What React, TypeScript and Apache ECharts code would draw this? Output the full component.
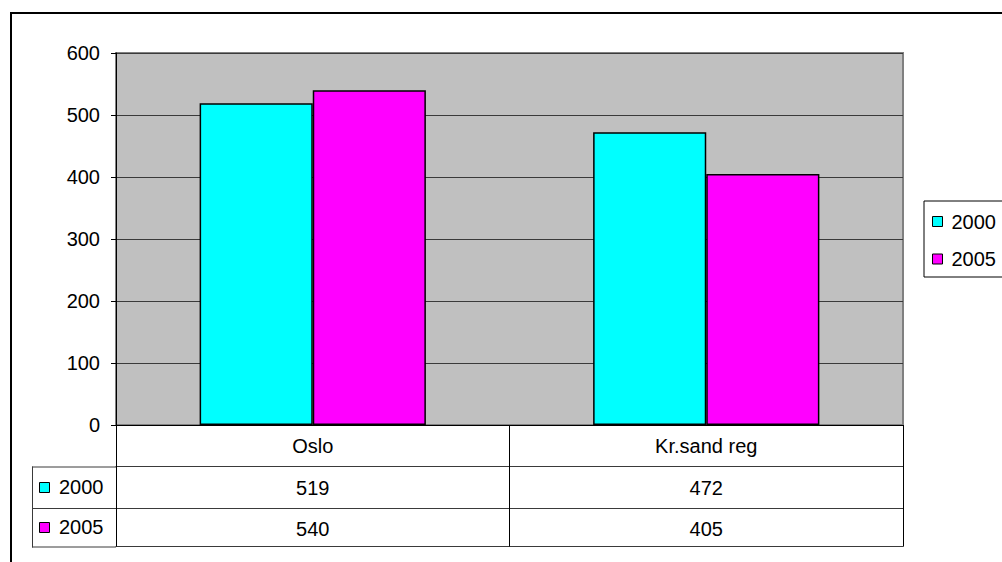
import React, { useEffect, useRef } from "react";
import * as echarts from "echarts";

const categories = ["Oslo", "Kr.sand reg"];
const seriesNames = ["2000", "2005"];
const values2000 = [519, 472];
const values2005 = [540, 405];
const seriesColors = ["#00FFFF", "#FF00FF"];
const yTicks = { min: 0, max: 600, interval: 100 };

const FONT = "'Liberation Sans', Arial, sans-serif";

export default function App() {
  const ref = useRef<HTMLDivElement>(null);
  useEffect(() => {
    if (!ref.current) return;
    const chart = echarts.init(ref.current, null, { renderer: "svg" });
    const gridLeft = 116;
    const gridTop = 53;
    const gridW = 787;
    const gridH = 372;
    const gridBottom = gridTop + gridH;
    const rowH = [41.5, 41.5, 38.5];
    const row1 = gridBottom + rowH[0];
    const row2 = row1 + rowH[1];
    const row3 = row2 + rowH[2];
    const keyLeft = 32;
    const lineColor = "#3a3a3a";

    const valueAxis = (data: string[], offset: number, showLabel: boolean) => ({
      type: "category",
      data,
      position: "bottom",
      offset,
      gridIndex: 0,
      axisLine: { show: true, lineStyle: { color: lineColor, width: 1 } },
      axisTick: { show: false },
      axisLabel: {
        show: showLabel,
        interval: 0,
        margin: 11,
        fontSize: 20,
        lineHeight: 20,
        color: "#000",
        fontFamily: FONT,
      },
      splitLine: { show: false },
    });

    const tableKeys: any[] = [];
    seriesNames.forEach((name, i) => {
      const top = i === 0 ? row1 : row2;
      const h = i === 0 ? rowH[1] : rowH[2];
      const cy = top + h / 2;
      tableKeys.push({
        type: "rect",
        shape: { x: 39.5, y: Math.round(cy - 5) + 0.5, width: 10, height: 10 },
        style: { fill: seriesColors[i], stroke: "#000", lineWidth: 1 },
      });
      tableKeys.push({
        type: "text",
        x: 59,
        y: cy,
        style: {
          text: name,
          fontSize: 20,
          fontFamily: FONT,
          fill: "#000",
          verticalAlign: "middle",
          align: "left",
        },
      });
    });

    chart.setOption({
      animation: false,
      backgroundColor: "#fff",
      textStyle: { fontFamily: FONT },
      grid: {
        left: gridLeft,
        top: gridTop,
        width: gridW,
        height: gridH,
        show: true,
        backgroundColor: "#C0C0C0",
        borderColor: "#808080",
        borderWidth: 2,
      },
      legend: {
        data: seriesNames,
        orient: "vertical",
        left: 924,
        top: 201,
        padding: [10.5, 40, 8, 8],
        itemWidth: 10,
        itemHeight: 10,
        itemGap: 17.5,
        icon: "rect",
        borderColor: "#000",
        borderWidth: 1,
        backgroundColor: "#fff",
        textStyle: {
          fontSize: 20,
          lineHeight: 20,
          color: "#000",
          fontFamily: FONT,
          padding: [0, 0, 0, 4],
        },
        itemStyle: { borderColor: "#000", borderWidth: 1 },
      },
      xAxis: [
        {
          type: "category",
          data: categories,
          position: "bottom",
          gridIndex: 0,
          axisLine: { show: true, lineStyle: { color: "#000", width: 1 } },
          axisTick: {
            show: true,
            interval: 0,
            inside: false,
            length: row3 - gridBottom,
            lineStyle: { color: "#000", width: 1 },
          },
          axisLabel: {
            interval: 0,
            margin: 11,
            fontSize: 20,
            lineHeight: 20,
            color: "#000",
            fontFamily: FONT,
          },
          splitLine: { show: false },
        },
        valueAxis(values2000.map(String), rowH[0], true),
        valueAxis(values2005.map(String), rowH[0] + rowH[1], true),
        valueAxis(categories, rowH[0] + rowH[1] + rowH[2], false),
      ],
      yAxis: {
        type: "value",
        min: yTicks.min,
        max: yTicks.max,
        interval: yTicks.interval,
        axisLine: { show: true, lineStyle: { color: "#000", width: 1 } },
        axisTick: { show: true, length: 5, lineStyle: { color: "#000" } },
        axisLabel: {
          margin: 16,
          fontSize: 20,
          color: "#000",
          fontFamily: FONT,
        },
        splitLine: { show: true, lineStyle: { color: "#3a3a3a", width: 1 } },
      },
      series: [
        {
          name: seriesNames[0],
          type: "bar",
          xAxisIndex: 0,
          data: values2000,
          barCategoryGap: "42.5%",
          barGap: "0%",
          itemStyle: { color: seriesColors[0], borderColor: "#000", borderWidth: 1.5 },
        },
        {
          name: seriesNames[1],
          type: "bar",
          xAxisIndex: 0,
          data: values2005,
          barCategoryGap: "42.5%",
          barGap: "0%",
          itemStyle: { color: seriesColors[1], borderColor: "#000", borderWidth: 1.5 },
        },
      ],
      graphic: [
        {
          type: "rect",
          shape: { x: 11, y: 13, width: 1010, height: 600 },
          style: { fill: "none", stroke: "#000", lineWidth: 2 },
          silent: true,
        },
        {
          type: "line",
          shape: { x1: keyLeft, y1: row1 + 0.5, x2: gridLeft, y2: row1 + 0.5 },
          style: { stroke: lineColor, lineWidth: 1 },
        },
        {
          type: "line",
          shape: { x1: keyLeft, y1: row2 + 0.5, x2: gridLeft, y2: row2 + 0.5 },
          style: { stroke: lineColor, lineWidth: 1 },
        },
        {
          type: "line",
          shape: { x1: keyLeft, y1: row3 + 0.5, x2: gridLeft, y2: row3 + 0.5 },
          style: { stroke: lineColor, lineWidth: 1 },
        },
        {
          type: "line",
          shape: { x1: keyLeft + 0.5, y1: row1, x2: keyLeft + 0.5, y2: row3 + 1 },
          style: { stroke: lineColor, lineWidth: 1 },
        },
        ...tableKeys,
      ],
    });
    return () => chart.dispose();
  }, []);
  return (
    <div
      ref={ref}
      style={{ position: "fixed", left: 0, top: 0, width: 1002, height: 562, background: "#fff" }}
    />
  );
}
